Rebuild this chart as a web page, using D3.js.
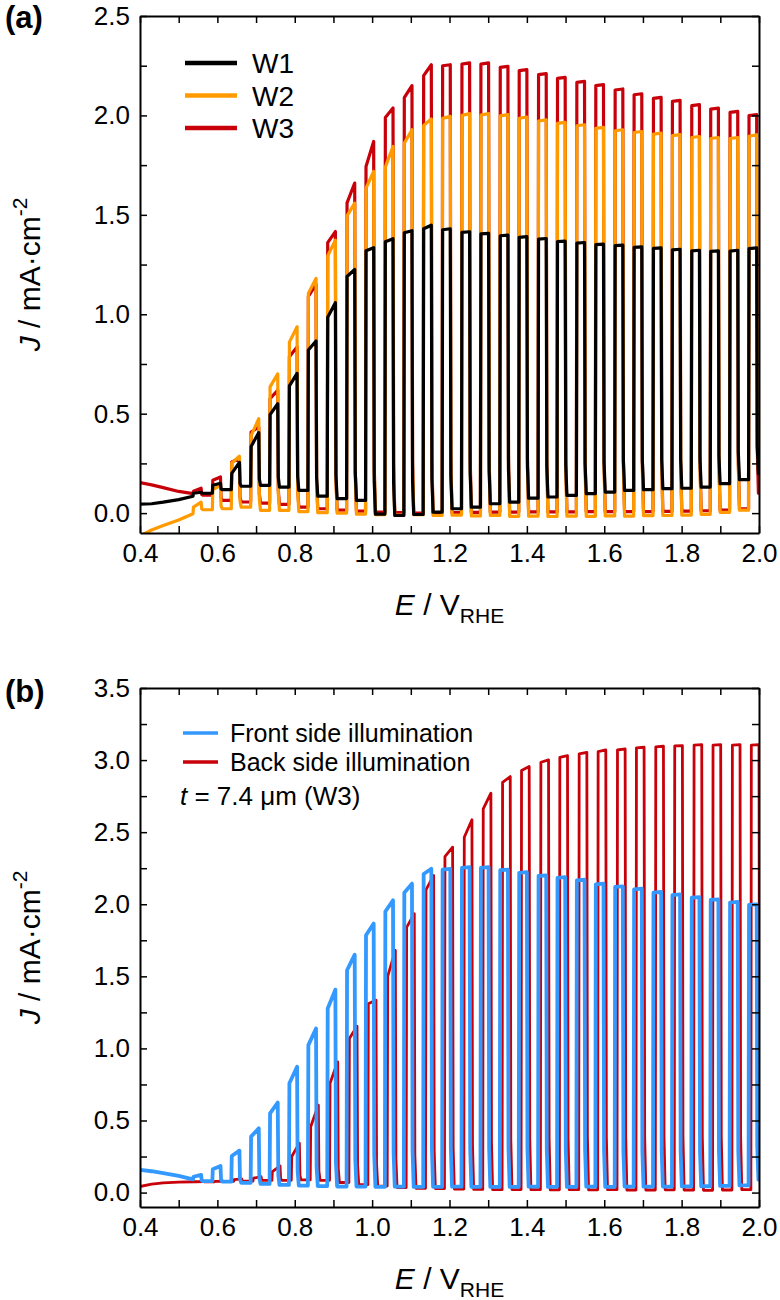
<!DOCTYPE html>
<html>
<head>
<meta charset="utf-8">
<script src="https://cdnjs.cloudflare.com/ajax/libs/d3/7.8.5/d3.min.js"></script>
<style>
	body { margin: 0; background: #fff; }
	svg text { font-family: "Liberation Sans", Arial, sans-serif; fill: #000; }
</style>
</head>
<body>
<script>
// Chopped-light scans. E in V vs RHE, J in mA cm-2.
// Each chop: light switched on at chopOn[k]; current jumps to start[k], ends at end[k],
// then falls back to the dark level dark[k+1].

// potentials where the light was switched on
var chopOn = [0.537, 0.587, 0.636, 0.686, 0.735, 0.785, 0.834, 0.884, 0.934, 0.983,
	1.033, 1.082, 1.132, 1.181, 1.231, 1.280, 1.330, 1.379, 1.429, 1.478,
	1.528, 1.577, 1.627, 1.676, 1.726, 1.775, 1.825, 1.874, 1.924, 1.973];
var chopOnBack = [0.543, 0.593, 0.642, 0.692, 0.741, 0.791, 0.840, 0.890, 0.940, 0.989,
	1.039, 1.088, 1.138, 1.187, 1.237, 1.286, 1.336, 1.385, 1.435, 1.484,
	1.534, 1.583, 1.633, 1.682, 1.732, 1.781, 1.831, 1.880, 1.930, 1.979];
var chopWidth = 0.021;

// dark scan before the first chop
var preE = [0.40, 0.43, 0.46, 0.50];

// ---- panel (a) ----
var w1PreJ = [0.045, 0.047, 0.055, 0.068];
var w1Dark = [0.085, 0.100, 0.118, 0.135, 0.140, 0.131, 0.114, 0.085, 0.073, 0.064,
	-0.005, -0.012, -0.007, 0.005, 0.022, 0.030, 0.047, 0.055, 0.075, 0.081,
	0.089, 0.098, 0.106, 0.114, 0.118, 0.123, 0.125, 0.131, 0.148, 0.168, 0.20];
var w1Start = [0.100, 0.140, 0.200, 0.335, 0.495, 0.640, 0.820, 0.985, 1.190, 1.320,
	1.365, 1.410, 1.430, 1.425, 1.412, 1.404, 1.395, 1.387, 1.378, 1.366,
	1.358, 1.350, 1.345, 1.336, 1.331, 1.324, 1.319, 1.316, 1.318, 1.330];
var w1End = [0.105, 0.150, 0.255, 0.405, 0.550, 0.703, 0.866, 1.058, 1.225, 1.335,
	1.380, 1.420, 1.448, 1.430, 1.415, 1.407, 1.398, 1.390, 1.381, 1.368,
	1.361, 1.353, 1.348, 1.339, 1.334, 1.327, 1.322, 1.319, 1.322, 1.334];

var w2PreJ = [-0.115, -0.085, -0.062, -0.035];
var w2Dark = [-0.003, 0.017, 0.022, 0.030, 0.014, 0.014, 0.008, 0.002, 0.000, -0.005,
	-0.008, -0.010, -0.008, -0.012, -0.010, -0.014, -0.012, -0.016, -0.015, -0.017,
	-0.015, -0.016, -0.014, -0.015, -0.013, -0.012, -0.010, -0.006, 0.004, 0.015, 0.22];
var w2Start = [0.030, 0.118, 0.252, 0.390, 0.635, 0.860, 1.105, 1.293, 1.495, 1.634,
	1.740, 1.860, 1.950, 1.985, 2.000, 2.002, 1.998, 1.986, 1.972, 1.960,
	1.948, 1.935, 1.923, 1.914, 1.906, 1.898, 1.889, 1.884, 1.884, 1.895];
var w2End = [0.055, 0.140, 0.286, 0.475, 0.700, 0.937, 1.180, 1.373, 1.559, 1.718,
	1.844, 1.928, 1.982, 1.995, 2.009, 2.009, 2.004, 1.992, 1.978, 1.965,
	1.953, 1.940, 1.928, 1.919, 1.911, 1.903, 1.894, 1.889, 1.889, 1.903];

var w3PreJ = [0.153, 0.142, 0.128, 0.109];
var w3Dark = [0.098, 0.090, 0.064, 0.056, 0.050, 0.044, 0.030, 0.022, 0.015, 0.010,
	0.005, 0.002, 0.000, 0.000, 0.002, 0.004, 0.005, 0.005, 0.006, 0.006,
	0.006, 0.007, 0.007, 0.008, 0.008, 0.009, 0.010, 0.012, 0.015, 0.022, 0.10];
var w3Start = [0.110, 0.165, 0.257, 0.408, 0.576, 0.786, 1.090, 1.360, 1.560, 1.743,
	1.990, 2.090, 2.200, 2.250, 2.258, 2.258, 2.242, 2.225, 2.205, 2.186,
	2.166, 2.150, 2.128, 2.104, 2.086, 2.071, 2.049, 2.032, 2.015, 1.999];
var w3End = [0.125, 0.182, 0.274, 0.433, 0.618, 0.836, 1.150, 1.416, 1.660, 1.869,
	2.037, 2.150, 2.255, 2.255, 2.264, 2.264, 2.247, 2.230, 2.210, 2.191,
	2.171, 2.155, 2.133, 2.109, 2.091, 2.076, 2.054, 2.037, 2.020, 2.004];

// ---- panel (b) ----
var frontPreJ = [0.157, 0.148, 0.135, 0.116];
var frontDark = [0.092, 0.080, 0.076, 0.068, 0.060, 0.053, 0.048, 0.045, 0.042, 0.042,
	0.040, 0.041, 0.039, 0.040, 0.041, 0.040, 0.039, 0.040, 0.041, 0.040,
	0.040, 0.041, 0.040, 0.042, 0.041, 0.042, 0.043, 0.044, 0.046, 0.050, 0.09];
var frontStart = [0.110, 0.162, 0.254, 0.388, 0.550, 0.758, 1.023, 1.277, 1.542, 1.785,
	1.950, 2.080, 2.210, 2.240, 2.252, 2.252, 2.236, 2.218, 2.196, 2.183,
	2.165, 2.138, 2.120, 2.103, 2.080, 2.063, 2.045, 2.030, 2.012, 1.995];
var frontEnd = [0.123, 0.185, 0.291, 0.446, 0.625, 0.873, 1.138, 1.408, 1.650, 1.866,
	2.027, 2.143, 2.246, 2.246, 2.258, 2.258, 2.240, 2.223, 2.200, 2.188,
	2.170, 2.143, 2.124, 2.108, 2.085, 2.068, 2.050, 2.034, 2.016, 1.999];

var backPreJ = [0.042, 0.058, 0.068, 0.072];
var backDark = [0.075, 0.075, 0.078, 0.080, 0.085, 0.085, 0.088, 0.085, 0.070, 0.055,
	0.045, 0.035, 0.030, 0.028, 0.025, 0.022, 0.020, 0.021, 0.020, 0.019,
	0.020, 0.019, 0.020, 0.018, 0.018, 0.019, 0.018, 0.016, 0.018, 0.020, 0.03];
var backStart = [0.075, 0.078, 0.090, 0.100, 0.145, 0.250, 0.457, 0.758, 1.069, 1.310,
	1.500, 1.840, 2.100, 2.330, 2.465, 2.662, 2.846, 2.927, 2.985, 3.019,
	3.043, 3.059, 3.070, 3.085, 3.092, 3.098, 3.104, 3.104, 3.104, 3.104];
var backEnd = [0.076, 0.080, 0.095, 0.110, 0.185, 0.342, 0.607, 0.907, 1.154, 1.335,
	1.680, 1.935, 2.200, 2.396, 2.586, 2.770, 2.886, 2.955, 3.001, 3.031,
	3.054, 3.070, 3.077, 3.089, 3.096, 3.100, 3.107, 3.107, 3.107, 3.107];

// axis ticks
var xTicks = [0.4, 0.5, 0.6, 0.7, 0.8, 0.9, 1.0, 1.1, 1.2, 1.3, 1.4, 1.5, 1.6, 1.7, 1.8, 1.9, 2.0];
var xLabels = [0.4, 0.6, 0.8, 1.0, 1.2, 1.4, 1.6, 1.8, 2.0];
var yTicksA = [0, 0.25, 0.5, 0.75, 1.0, 1.25, 1.5, 1.75, 2.0, 2.25, 2.5];
var yLabelsA = [0, 0.5, 1.0, 1.5, 2.0, 2.5];
var yTicksB = [0, 0.25, 0.5, 0.75, 1.0, 1.25, 1.5, 1.75, 2.0, 2.25, 2.5, 2.75, 3.0, 3.25, 3.5];
var yLabelsB = [0, 0.5, 1.0, 1.5, 2.0, 2.5, 3.0, 3.5];

var svg = d3.select("body")
	.append("svg")
	.attr("width", 780)
	.attr("height", 1300);

var xScale = d3.scaleLinear().domain([0.4, 2.0]).range([140, 759]);

// turn chop arrays into a list of [E, J] points
function chopTrace(onE, pre, dark, start, end) {
	var pts = [];
	preE.forEach(function(e, i){
		pts.push([e, pre[i]]);
	});
	onE.forEach(function(e, k){
		var off = e + chopWidth;
		pts.push([e, dark[k]]);
		pts.push([e + 0.0012, start[k]]);
		pts.push([off, end[k]]);
		// light off: fast drop that rounds into the dark level
		pts.push([off + 0.0015, dark[k + 1] + 0.12 * (end[k] - dark[k + 1])]);
		pts.push([off + 0.0045, dark[k + 1]]);
	});
	pts.push([onE[onE.length - 1] + chopWidth + 0.01, dark[onE.length]]);
	return pts;
}

function hasLabel(list, v) {
	return list.some(function(l){ return Math.abs(l - v) < 1e-6; });
}

function drawPanel(id, top, bottom, yDomain, yTicks, yLabels, series) {
	var yScale = d3.scaleLinear().domain(yDomain).range([bottom, top]);
	var g = svg.append("g");

	g.append("clipPath")
		.attr("id", "clip-" + id)
		.append("rect")
		.attr("x", 140).attr("y", top)
		.attr("width", 619).attr("height", bottom - top);

	var line = d3.line()
		.x(d => xScale(d[0]))
		.y(d => yScale(d[1]));

	g.append("g")
		.attr("clip-path", "url(#clip-" + id + ")")
		.selectAll("path")
		.data(series)
		.enter()
		.append("path")
		.attr("d", d => line(d.points))
		.attr("fill", "none")
		.attr("stroke", d => d.color)
		.attr("stroke-width", d => d.width)
		.attr("stroke-linejoin", "round")
		.attr("stroke-linecap", "round");

	//axes with inward ticks on all four sides
	var bottomAxis = d3.axisBottom(xScale).tickValues(xTicks).tickSizeInner(-7).tickSizeOuter(0)
		.tickPadding(11)
		.tickFormat(v => hasLabel(xLabels, v) ? d3.format(".1f")(v) : "");
	var topAxis = d3.axisTop(xScale).tickValues(xTicks).tickSizeInner(-7).tickSizeOuter(0).tickFormat("");
	var leftAxis = d3.axisLeft(yScale).tickValues(yTicks).tickSizeInner(-7).tickSizeOuter(0)
		.tickPadding(10)
		.tickFormat(v => hasLabel(yLabels, v) ? d3.format(".1f")(v) : "");
	var rightAxis = d3.axisRight(yScale).tickValues(yTicks).tickSizeInner(-7).tickSizeOuter(0).tickFormat("");

	var axes = [
		g.append("g").attr("transform", `translate(0, ${bottom})`).call(bottomAxis),
		g.append("g").attr("transform", `translate(0, ${top})`).call(topAxis),
		g.append("g").attr("transform", "translate(140, 0)").call(leftAxis),
		g.append("g").attr("transform", "translate(759, 0)").call(rightAxis)
	];
	axes.forEach(function(a){
		a.attr("font-size", 26).attr("font-family", '"Liberation Sans", Arial, sans-serif');
		a.select(".domain").attr("stroke", "#000").attr("stroke-width", 2);
		a.selectAll(".tick line").attr("stroke", "#000").attr("stroke-width", 1.5);
		a.selectAll(".tick text").attr("fill", "#000");
	});

	//x axis title
	var xt = g.append("text")
		.attr("x", 449.5)
		.attr("y", bottom + 82)
		.attr("text-anchor", "middle")
		.style("font-size", "30px");
	xt.append("tspan").style("font-style", "italic").text("E");
	xt.append("tspan").text(" / V");
	xt.append("tspan").attr("dy", 8).style("font-size", "21px").text("RHE");

	//y axis title
	var yt = g.append("text")
		.attr("transform", `translate(40, ${(top + bottom) / 2}) rotate(-90)`)
		.attr("text-anchor", "middle")
		.style("font-size", "30px");
	yt.append("tspan").style("font-style", "italic").text("J");
	yt.append("tspan").text(" / mA\u00b7cm");
	yt.append("tspan").attr("dy", -13).style("font-size", "21px").text("-2");

	return g;
}

// panel (a): red, orange, then black on top
var seriesA = [
	{name: "W3", color: "#c8000a", width: 3.2, points: chopTrace(chopOn, w3PreJ, w3Dark, w3Start, w3End)},
	{name: "W2", color: "#ff9a00", width: 3.2, points: chopTrace(chopOn, w2PreJ, w2Dark, w2Start, w2End)},
	{name: "W1", color: "#000000", width: 3.2, points: chopTrace(chopOn, w1PreJ, w1Dark, w1Start, w1End)}
];
var gA = drawPanel("a", 16, 533, [-0.1, 2.5], yTicksA, yLabelsA, seriesA);

// panel (b): back side under front side
var seriesB = [
	{name: "Back side illumination", color: "#c8000a", width: 2.8, points: chopTrace(chopOnBack, backPreJ, backDark, backStart, backEnd)},
	{name: "Front side illumination", color: "#3399ff", width: 3.8, points: chopTrace(chopOn, frontPreJ, frontDark, frontStart, frontEnd)}
];
var gB = drawPanel("b", 688, 1207, [-0.1, 3.5], yTicksB, yLabelsB, seriesB);

//panel letters
svg.append("text").attr("x", 5).attr("y", 28).style("font-size", "31px").style("font-weight", "bold").text("(a)");
svg.append("text").attr("x", 5).attr("y", 702).style("font-size", "31px").style("font-weight", "bold").text("(b)");

//legend (a)
var legendA = gA.selectAll(".legA")
	.data(seriesA.slice().reverse())
	.enter()
	.append("g")
	.attr("transform", (d, i) => `translate(185, ${63 + i * 32.5})`);
legendA.append("line")
	.attr("x1", 0).attr("x2", 52)
	.attr("stroke", d => d.color)
	.attr("stroke-width", 4.5);
legendA.append("text")
	.attr("x", 67).attr("y", 10)
	.style("font-size", "28px")
	.text(d => d.name);

//legend (b)
var legendB = gB.selectAll(".legB")
	.data(seriesB.slice().reverse())
	.enter()
	.append("g")
	.attr("transform", (d, i) => `translate(183, ${733 + i * 29})`);
legendB.append("line")
	.attr("x1", 0).attr("x2", 35)
	.attr("stroke", d => d.color)
	.attr("stroke-width", 3.5);
legendB.append("text")
	.attr("x", 47).attr("y", 8.5)
	.style("font-size", "25px")
	.text(d => d.name);

var note = gB.append("text").attr("x", 180).attr("y", 805).style("font-size", "26px");
note.append("tspan").style("font-style", "italic").text("t");
note.append("tspan").text(" = 7.4 \u03bcm (W3)");
</script>
</body>
</html>
